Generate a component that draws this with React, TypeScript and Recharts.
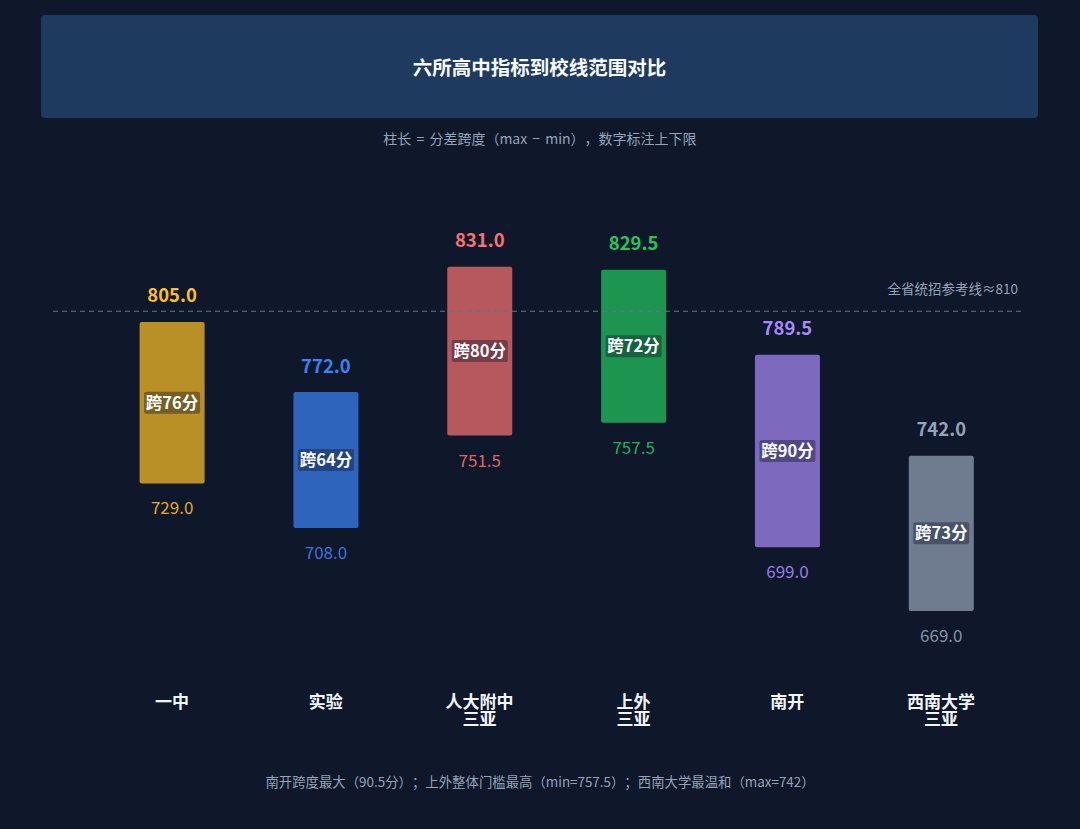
import React from 'react';
import { BarChart, Bar, XAxis, YAxis, Cell, LabelList, ReferenceLine } from 'recharts';

const schools = ['一中', '实验', '人大附中\n三亚', '上外\n三亚', '南开', '西南大学\n三亚'];
const minScores = [729.0, 708.0, 751.5, 757.5, 699.0, 669.0];
const maxScores = [805.0, 772.0, 831.0, 829.5, 789.5, 742.0];
const spanLabels = ['跨76分', '跨64分', '跨80分', '跨72分', '跨90分', '跨73分'];
const schoolColors = ['#fbbf24', '#3b82f6', '#f87171', '#22c55e', '#a78bfa', '#94a3b8'];
const referenceScore = 810;
const referenceLabel = '全省统招参考线≈810';

const title = '六所高中指标到校线范围对比';
const subtitle = '柱长 = 分差跨度（max − min），数字标注上下限';
const footnote = '南开跨度最大（90.5分）；上外整体门槛最高（min=757.5）；西南大学最温和（max=742）';

const FONT = '"Noto Sans CJK SC", "Noto Sans", sans-serif';
const BG = '#0f172a';

const data = schools.map((name, i) => ({
  name,
  range: [minScores[i], maxScores[i]],
}));

const bounds = (p: any) => {
  const top = Math.min(p.y, p.y + p.height);
  const bottom = Math.max(p.y, p.y + p.height);
  return { top, bottom, cx: p.x + p.width / 2 };
};

const TopLabel = (props: any) => {
  const { top, cx } = bounds(props);
  return (
    <text x={cx} y={top - 19.5} textAnchor="middle" fill={schoolColors[props.index]}
      fontSize={18.5} fontWeight={700} fontFamily={FONT}>
      {maxScores[props.index].toFixed(1)}
    </text>
  );
};

const BottomLabel = (props: any) => {
  const { bottom, cx } = bounds(props);
  return (
    <text x={cx} y={bottom + 31} textAnchor="middle" fill={schoolColors[props.index]}
      fillOpacity={0.9} fontSize={17} fontFamily={FONT}>
      {minScores[props.index].toFixed(1)}
    </text>
  );
};

const SpanLabel = (props: any) => {
  const { top, bottom, cx } = bounds(props);
  const cy = (top + bottom) / 2;
  return (
    <g>
      <rect x={cx - 28} y={cy - 11} width={56} height={22} rx={2} fill="#0f172a" fillOpacity={0.4} />
      <text x={cx} y={cy + 6} textAnchor="middle" fill="#f8fafc"
        fontSize={16.5} fontWeight={700} fontFamily={FONT}>
        {spanLabels[props.index]}
      </text>
    </g>
  );
};

const SchoolTick = (props: any) => {
  const { x, y, payload } = props;
  const lines = String(payload.value).split('\n');
  return (
    <text x={x} y={y + 27} textAnchor="middle" fill="#f1f5f9"
      fontSize={17} fontWeight={700} fontFamily={FONT}>
      {lines.map((l, i) => (
        <tspan key={i} x={x} dy={i === 0 ? 0 : 17.5}>{l}</tspan>
      ))}
    </text>
  );
};

const RefLabel = (props: any) => {
  const vb = props.viewBox || {};
  return (
    <text x={vb.x + vb.width - 7} y={vb.y - 17} textAnchor="end" fill="#94a3b8"
      fontSize={13.5} fontFamily={FONT}>
      {referenceLabel}
    </text>
  );
};

export default function App() {
  return (
    <div style={{ position: 'relative', width: 1080, height: 829, background: BG, fontFamily: FONT }}>
      <style>{`body{margin:0;background:${BG};} *{text-spacing-trim:space-all;}`}</style>
      <div style={{
        position: 'absolute', left: 41, top: 15, width: 997, height: 103,
        background: '#1e3a5f', borderRadius: 4,
        display: 'flex', alignItems: 'center', justifyContent: 'center',
        color: '#f8fafc', fontSize: 19.5, fontWeight: 700,
      }}>
        {title}
      </div>
      <div style={{
        position: 'absolute', left: 0, width: 1080, top: 128, textAlign: 'center',
        color: '#94a3b8', fontSize: 14, lineHeight: '20px', wordSpacing: 2,
      }}>
        {subtitle}
      </div>
      <div style={{ position: 'absolute', left: 0, top: 0 }}>
        <BarChart width={1080} height={829} data={data}
          margin={{ top: 205, right: 55, bottom: 126.5, left: 53 }}
          barCategoryGap="29%">
          <XAxis dataKey="name" axisLine={false} tickLine={false} interval={0}
            padding={{ left: 42, right: 7 }} height={30} tick={<SchoolTick />} />
          <YAxis type="number" domain={[640, 860]} hide allowDataOverflow />
          <ReferenceLine y={referenceScore} stroke="#64748b" strokeDasharray="5 4"
            strokeWidth={1} label={<RefLabel />} />
          <Bar dataKey="range" isAnimationActive={false} radius={2}>
            {data.map((_, i) => (
              <Cell key={i} fill={schoolColors[i]} fillOpacity={0.72} />
            ))}
            <LabelList dataKey="range" content={<TopLabel />} />
            <LabelList dataKey="range" content={<BottomLabel />} />
            <LabelList dataKey="range" content={<SpanLabel />} />
          </Bar>
        </BarChart>
      </div>
      <div style={{
        position: 'absolute', left: 0, width: 1080, top: 771, textAlign: 'center',
        color: '#94a3b8', fontSize: 13.4, lineHeight: '20px',
      }}>
        {footnote}
      </div>
    </div>
  );
}
